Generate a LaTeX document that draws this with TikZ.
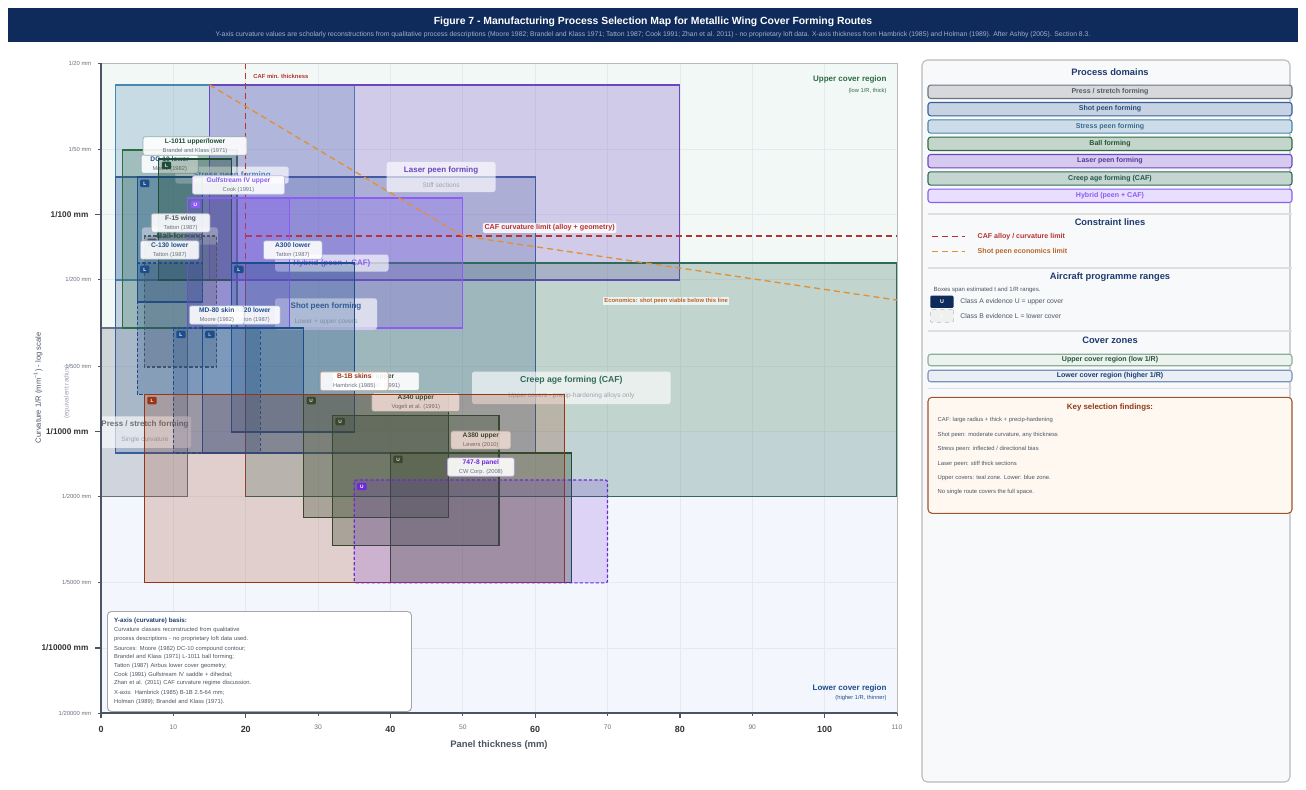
\documentclass[tikz,border=0pt]{standalone}
\usepackage{fontspec}
\setmainfont{Liberation Sans}
\usetikzlibrary{positioning,calc}

\definecolor{barnavy}{HTML}{0F2B5B}
\definecolor{subtitlec}{HTML}{9FB0CC}
\definecolor{headnavy}{HTML}{1E3A6E}
\definecolor{pressc}{HTML}{6B7280}
\definecolor{shotc}{HTML}{36609A}
\definecolor{stressc}{HTML}{4A86B0}
\definecolor{ballc}{HTML}{2E6B45}
\definecolor{laserc}{HTML}{6B46C1}
\definecolor{cafc}{HTML}{2F6B5A}
\definecolor{hybc}{HTML}{8B5CF6}
\definecolor{lowc}{HTML}{1E4D8C}
\definecolor{upc}{HTML}{1F4D35}
\definecolor{grayc}{HTML}{4B5563}
\definecolor{b1bc}{HTML}{9A3412}
\definecolor{purpc}{HTML}{6D28D9}
\definecolor{limitc}{HTML}{B83232}
\definecolor{econc}{HTML}{E39034}
\definecolor{econtext}{HTML}{B8652A}
\definecolor{subgray}{HTML}{6B7280}
\definecolor{lightsub}{HTML}{9CA3AF}
\definecolor{bodygray}{HTML}{4B5563}
\definecolor{axisc}{HTML}{4B5563}
\definecolor{uppbg}{HTML}{F2F8F6}
\definecolor{lowbg}{HTML}{F3F6FD}
\definecolor{gridc}{HTML}{E6EAF0}
\definecolor{panelbg}{HTML}{F8F9FB}
\definecolor{findc}{HTML}{A0522D}
\definecolor{findbg}{HTML}{FFF8F1}
\definecolor{findhead}{HTML}{8B3A1A}

\newcommand{\fsz}[1]{\fontsize{#1}{#1}\selectfont}
\newcommand{\psub}{\mdseries\fsz{4.3}\color{subgray}}
\newcommand{\dsub}{\mdseries\fsz{4.9}\color{lightsub}}

\tikzset{
  dombox/.style={draw=#1, fill=#1, fill opacity=0.25, line width=0.9pt},
  progbox/.style={draw=#1, fill=#1, fill opacity=0.24, line width=0.9pt},
  dashbox/.style={dash pattern=on 2.4pt off 1.6pt},
  darkfill/.style={fill opacity=0.32},
  domlabel/.style={fill=white, fill opacity=0.65, text opacity=1, rounded corners=2pt,
    align=center, inner xsep=2pt, inner ysep=3.6pt, text=#1, font=\fsz{6}\bfseries},
  proglabel/.style={draw=#1!45, line width=0.5pt, fill=white, fill opacity=0.9, text opacity=1,
    rounded corners=1.5pt, align=center, inner xsep=1pt, inner ysep=1.3pt, text=#1, font=\fsz{5}\bfseries},
  badge/.style={fill=#1, text=white, rounded corners=0.8pt, minimum width=7pt, minimum height=5.6pt,
    inner sep=0pt, font=\fsz{3.6}\bfseries},
  legbar/.style={draw=#1, fill=#1!28, text=#1!80!black, line width=0.8pt, rounded corners=2pt,
    minimum width=273pt, minimum height=10pt, inner sep=0pt, outer sep=0pt, font=\fsz{5.3}\bfseries},
  leghead/.style={text=headnavy, font=\fsz{7}\bfseries},
  sepline/.style={draw=gray!25, line width=1.2pt},
  limit/.style={draw=limitc, dash pattern=on 4.5pt off 3pt, line width=1pt},
  econ/.style={draw=econc, dash pattern=on 4.5pt off 3pt, line width=1pt},
}

% programme range: name, colour, box options, top left, bottom right, badge, label width, title, source
\newcommand{\progbox}[9]{%
  \coordinate (#1-tl) at (#4);
  \coordinate (#1-br) at (#5);
  \draw[progbox=#2, #3] (#1-tl) rectangle (#1-br);
  \node[badge=#2, below right=1.8pt and 2pt of #1-tl] (#1-bd) {#6};
  \coordinate (#1-top) at ($(#1-tl)!0.5!(#1-br |- #1-tl)$);
  \node[proglabel=#2, minimum width=#7, above=2.6pt of #1-top] (#1-lb) {#8\\[1.7pt]{\psub #9}};
}

\begin{document}
\begin{tikzpicture}[x=0.75pt, y=-0.75pt]
\useasboundingbox (0,0) rectangle (1306,789);
\fill[white] (0,0) rectangle (1306,789);

%Titelleiste
\fill[barnavy] (8,8) rectangle (1298,42);
\node[text=white, font=\fsz{7.8}\bfseries] (title) at (653,22) {Figure 7 - Manufacturing Process Selection Map for Metallic Wing Cover Forming Routes};
\node[text=subtitlec, font=\fsz{5.1}] (subtitle) at (653,35) {Y-axis curvature values are scholarly reconstructions from qualitative process descriptions (Moore 1982; Brandel and Klass 1971; Tatton 1987; Cook 1991; Zhan et al. 2011) - no proprietary loft data. X-axis thickness from Hambrick (1985) and Holman (1989). After Ashby (2005). Section 8.3.};

%Diagramm: x = Dicke in mm, y = log10(R)
\begin{scope}[shift={(101,-218.9)}, x=5.427pt, y=-162.525pt]
  %Zonen
  \fill[uppbg] (0,1.301) rectangle (110,3);
  \fill[lowbg] (0,3) rectangle (110,4.301);
  %Gitter
  \foreach \t in {10,20,...,100}
    \draw[gridc, line width=0.5pt] (\t,1.301) -- (\t,4.301);
  \foreach \l in {1.699,2,2.301,2.699,3,3.301,3.699,4}
    \draw[gridc, line width=0.5pt] (0,\l) -- (110,\l);

  \begin{scope}
    \clip (0,1.301) rectangle (110,4.301);
    %Verfahrensbereiche
    \draw[dombox=stressc] (2,1.402) rectangle (35,2.302);
    \draw[dombox=pressc] (0,2.524) rectangle (12,3.3);
    \draw[dombox=shotc] (2,1.827) rectangle (60,3.1006);
    \draw[dombox=ballc] (3,1.7025) rectangle (18.8,2.524);
    \draw[dombox=laserc] (15,1.402) rectangle (80,2.302);
    \draw[dombox=cafc] (20,2.224) rectangle (110,3.301);
    \draw[dombox=hybc] (12,1.924) rectangle (50,2.524);
    %Bereichsnamen
    \node[domlabel=stressc, minimum width=85pt] (lstress) at (18.1,1.818) {Stress peen forming};
    \node[domlabel=ballc, minimum width=57pt] (lball) at (10.9,2.099) {Ball forming};
    \node[domlabel=laserc, minimum width=81.75pt] (llaser) at (47,1.827) {Laser peen forming\\[5pt]{\dsub Stiff sections}};
    \node[domlabel=hybc, minimum width=85pt] (lhyb) at (31.9,2.224) {Hybrid (peen + CAF)};
    \node[domlabel=shotc, minimum width=76.5pt] (lshot) at (31.1,2.459) {Shot peen forming\\[5pt]{\dsub Lower + upper covers}};
    \node[domlabel=cafc, minimum width=149pt, font=\fsz{6.5}\bfseries] (lcaf) at (65,2.8) {Creep age forming (CAF)\\[5pt]{\dsub Upper covers - precip-hardening alloys only}};
    \node[domlabel=pressc, minimum width=68pt] (lpress) at (6.08,3.004) {Press / stretch forming\\[5pt]{\dsub Single curvature}};
  \end{scope}

  %Grenzlinien
  \draw[limit] (20,1.301) -- (20,3.301);
  \draw[limit] (20,2.0992) -- (110,2.0992);
  \draw[econ] (15,1.402) -- (50,2.0992) -- (110,2.395);
  \node[anchor=west, text=limitc, font=\fsz{4.4}\bfseries] (cafmin) at (20.4,1.361) {CAF min. thickness};
  \node[fill=white, fill opacity=0.85, text opacity=1, rounded corners=1pt, inner sep=1.2pt,
    text=limitc, font=\fsz{5.4}\bfseries] (caflim) at (62,2.062) {CAF curvature limit (alloy + geometry)};
  \node[fill=white, fill opacity=0.7, text opacity=1, inner sep=1pt, text=econtext,
    font=\fsz{4.4}\bfseries] (econlab) at (78.1,2.399) {Economics: shot peen viable below this line};

  %Flugzeugprogramme
  \progbox{dc10}{lowc}{}{5,1.827}{14,2.404}{L}{42.75pt}{DC-10 lower}{Moore (1982)}
  \progbox{l1011}{upc}{darkfill}{8,1.744}{18,2.302}{L}{78pt}{L-1011 upper/lower}{Brandel and Klass (1971)}
  \progbox{gulf}{hybc}{}{12,1.924}{26,2.524}{U}{69pt}{Gulfstream IV upper}{Cook (1991)}
  \progbox{f15}{grayc}{dashbox}{6,2.099}{16,2.704}{L}{44pt}{F-15 wing}{Tatton (1987)}
  \progbox{c130}{lowc}{dashbox}{5,2.224}{14,2.829}{L}{44pt}{C-130 lower}{Tatton (1987)}
  \progbox{a300}{lowc}{}{18,2.224}{35,3.004}{L}{44pt}{A300 lower}{Tatton (1987)}
  \progbox{a320}{lowc}{}{14,2.524}{28,3.1006}{L}{41pt}{A320 lower}{Tatton (1987)}
  \progbox{md80}{lowc}{dashbox}{10,2.524}{22,3.1006}{L}{41pt}{MD-80 skin}{Moore (1982)}
  \progbox{a330}{upc}{darkfill}{28,2.829}{48,3.4}{U}{65pt}{A330 upper}{Vogeli et al. (1991)}
  \progbox{a340}{upc}{darkfill}{32,2.926}{55,3.529}{U}{66pt}{A340 upper}{Vogeli et al. (1991)}
  \progbox{a380}{upc}{darkfill}{40,3.1006}{65,3.70}{U}{45pt}{A380 upper}{Levers (2010)}
  \progbox{b1b}{b1bc}{fill opacity=0.2}{6,2.829}{64,3.70}{L}{51pt}{B-1B skins}{Hambrick (1985)}
  \progbox{b7478}{purpc}{dashbox, rounded corners=1.5pt, fill opacity=0.17}{35,3.2256}{70,3.70}{U}{50pt}{747-8 panel}{CW Corp. (2008)}

  %Zonennamen
  \node[anchor=east, text=ballc, font=\fsz{6}\bfseries] (upzone) at (109.2,1.379) {Upper cover region};
  \node[anchor=east, text=ballc, font=\fsz{4.3}] (upzonesub) at (109.2,1.430) {(low 1/R, thick)};
  \node[anchor=east, text=lowc, font=\fsz{6}\bfseries] (lowzone) at (109.2,4.185) {Lower cover region};
  \node[anchor=east, text=lowc, font=\fsz{4.3}] (lowzonesub) at (109.2,4.231) {(higher 1/R, thinner)};

  %Achsen
  \draw[gray!55, line width=0.6pt] (0,1.301) rectangle (110,4.301);
  \draw[axisc, line width=1.2pt] (0,1.301) -- (0,4.301) -- (110,4.301);
  \foreach \r/\l in {20/1.301,50/1.699,200/2.301,500/2.699,2000/3.301,5000/3.699,20000/4.301}
    \draw[axisc, line width=0.6pt] (0,\l) -- ++(-2.4pt,0)
      node[left=1.2pt, text=subgray, font=\fsz{4.4}] (ylab\r) {1/\r{} mm};
  \foreach \r/\l in {100/2,1000/3,10000/4}
    \draw[axisc, line width=1pt] (0,\l) -- ++(-4.6pt,0)
      node[left=1pt, text=black!80, font=\fsz{6.2}\bfseries] (ylab\r) {1/\r{} mm};
  \foreach \t in {10,30,...,110}
    \draw[axisc, line width=0.6pt] (\t,4.301) -- ++(0,-2pt)
      node[below=3.4pt, text=subgray, font=\fsz{5}] (xlab\t) {\t};
  \foreach \t in {0,20,...,100}
    \draw[axisc, line width=1pt] (\t,4.301) -- ++(0,-4pt)
      node[below=1.8pt, text=black!80, font=\fsz{6.7}\bfseries] (xlab\t) {\t};
  \node[text=bodygray, font=\fsz{7.1}\bfseries] (xtitle) at (55,4.448) {Panel thickness (mm)};
  \node[rotate=90, text=bodygray, font=\fsz{5.7}] (ytitle) at (-8.7,2.8) {Curvature 1/R (mm\textsuperscript{−1}) - log scale};
  \node[rotate=90, text=lightsub, font=\fsz{4.9}] (ysub) at (-4.7,2.819) {(equivalent radius)};
\end{scope}

%Hinweis zur y-Achse
\node[draw=gray!70, line width=0.7pt, fill=white, rounded corners=3pt, anchor=north west,
  minimum width=228pt, minimum height=75pt, text width=218pt, align=left, inner xsep=5pt,
  text=bodygray, font=\fsz{4.35}] (note) at (107,611)
  {{\color{headnavy}\fsz{4.7}\bfseries Y-axis (curvature) basis:}\\[2.2pt]
   Curvature classes reconstructed from qualitative\\[2.2pt]
   process descriptions - no proprietary loft data used.\\[3pt]
   Sources: Moore (1982) DC-10 compound contour;\\[2.2pt]
   Brandel and Klass (1971) L-1011 ball forming;\\[2.2pt]
   Tatton (1987) Airbus lower cover geometry;\\[2.2pt]
   Cook (1991) Gulfstream IV saddle + dihedral;\\[2.2pt]
   Zhan et al. (2011) CAF curvature regime discussion.\\[3pt]
   X-axis: Hambrick (1985) B-1B 2.5-64 mm;\\[2.2pt]
   Holman (1989); Brandel and Klass (1971).};

%Legende
\draw[draw=gray!55, fill=panelbg, rounded corners=4pt, line width=0.8pt] (922,60) rectangle (1290,782);
\node[leghead] (hdom) at (1110,71.7) {Process domains};
\node[legbar=pressc] (bpress) at (1110,91.8) {Press / stretch forming};
\node[legbar=shotc, below=3pt of bpress] (bshot) {Shot peen forming};
\node[legbar=stressc, below=3pt of bshot] (bstress) {Stress peen forming};
\node[legbar=ballc, below=3pt of bstress] (bball) {Ball forming};
\node[legbar=laserc, below=3pt of bball] (blaser) {Laser peen forming};
\node[legbar=cafc, below=3pt of blaser] (bcaf) {Creep age forming (CAF)};
\node[legbar=hybc, fill=hybc!20, text=hybc, below=3pt of bcaf] (bhyb) {Hybrid (peen + CAF)};
\draw[sepline] (928,214) -- (1292,214);

\node[leghead] (hlim) at (1110,222) {Constraint lines};
\draw[limit] (931.7,236.7) -- (965,236.7);
\node[anchor=west, text=limitc, font=\fsz{5.3}\bfseries] (llim) at (973,236.7) {CAF alloy / curvature limit};
\draw[econ] (931.7,251.7) -- (965,251.7);
\node[anchor=west, text=econtext, font=\fsz{5.3}\bfseries] (lecon) at (973,251.7) {Shot peen economics limit};
\draw[sepline] (928,267.7) -- (1292,267.7);

\node[leghead] (hprog) at (1110,277) {Aircraft programme ranges};
\node[anchor=west, text=bodygray, font=\fsz{4.5}] (lboxes) at (929,290.3) {Boxes span estimated t and 1/R ranges.};
\node[fill=barnavy, text=white, rounded corners=1pt, minimum width=17.5pt, minimum height=9.3pt,
  inner sep=0pt, anchor=north west, font=\fsz{4}\bfseries] (lu) at (930,295.3) {U};
\node[right=1.4pt of lu, text=bodygray, font=\fsz{5.1}] (lutext) {Class A evidence U = upper cover};
\node[draw=gray!55, dashed, fill=gray!12, text=white, rounded corners=1pt, minimum width=17.5pt,
  minimum height=9.8pt, inner sep=0pt, anchor=north west, font=\fsz{4}\bfseries] (ll) at (930,309) {L};
\node[right=1.4pt of ll, text=bodygray, font=\fsz{5.1}] (lltext) {Class B evidence L = lower cover};
\draw[sepline] (928,330.7) -- (1292,330.7);

\node[leghead] (hzone) at (1110,340.7) {Cover zones};
\node[legbar=ballc, draw=ballc!55, fill=ballc!9, minimum height=8.6pt] (bup) at (1110,360) {Upper cover region (low 1/R)};
\node[legbar=lowc, draw=lowc!60, fill=lowc!9, minimum height=8.6pt] (blow) at (1110,376) {Lower cover region (higher 1/R)};
\draw[sepline] (928,388.3) -- (1292,388.3);

%Befunde
\draw[draw=findc, fill=findbg, rounded corners=3pt, line width=0.8pt] (928,397.3) rectangle (1292,513.3);
\node[text=findhead, font=\fsz{5.9}\bfseries] (hfind) at (1110,407.3) {Key selection findings:};
\foreach \txt [count=\i] in {{CAF: large radius + thick + precip-hardening},
    {Shot peen: moderate curvature, any thickness},
    {Stress peen: inflected / directional bias},
    {Laser peen: stiff thick sections},
    {Upper covers: teal zone. Lower: blue zone.},
    {No single route covers the full space.}}
  \node[anchor=west, text=bodygray, font=\fsz{4.4}] (find\i) at (933,{406+14.4*\i}) {\txt};
\end{tikzpicture}
\end{document}
